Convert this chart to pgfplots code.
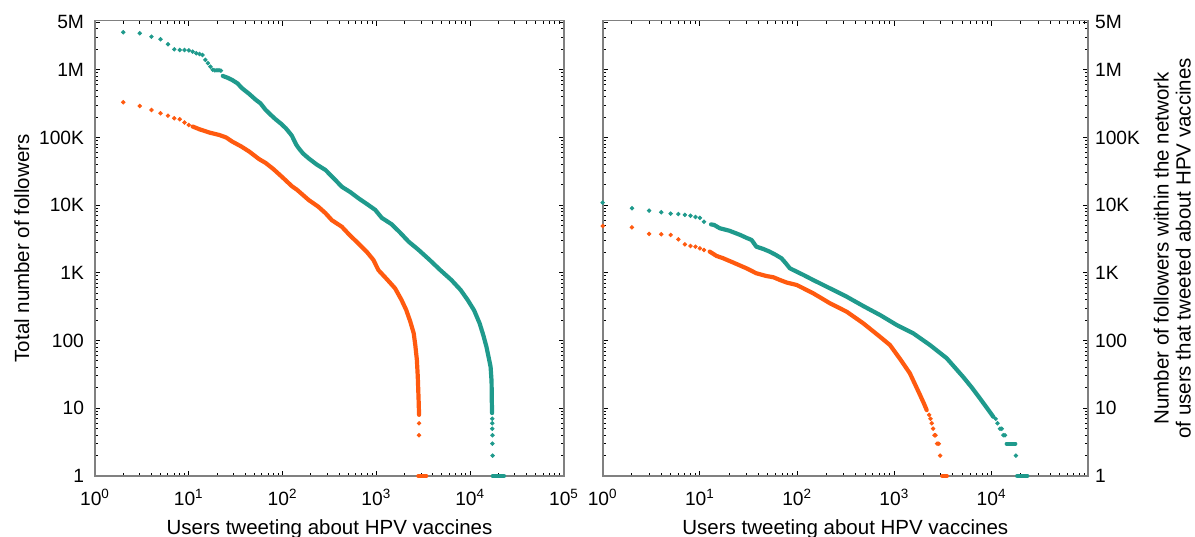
\documentclass[border=0pt]{standalone}
\usepackage{fontspec}
\setmainfont{Liberation Sans}
\usepackage{pgfplots}
\pgfplotsset{compat=1.18}
\definecolor{cTeal}{HTML}{1F9A8C}
\definecolor{cOrange}{HTML}{FF5A0F}

\pgfplotsset{
  hpvaxis/.style={
    scale only axis, ymin=1, ymax=5.3e6, clip=false,
    height=227.65pt,
    axis line style={draw=gray, line width=0.8pt},
    tick style={black, line width=0.5pt},
    major tick length=2.5pt, minor tick length=1.5pt,
    ytick={1,10,100,1000,1e4,1e5,1e6,5e6},
    yticklabels={1,10,100,1K,10K,100K,1M,5M},
    minor ytick={2,3,4,5,6,7,8,9,20,30,40,50,60,70,80,90,200,300,400,500,600,700,800,900,
      2e3,3e3,4e3,5e3,6e3,7e3,8e3,9e3,2e4,3e4,4e4,5e4,6e4,7e4,8e4,9e4,
      2e5,3e5,4e5,5e5,6e5,7e5,8e5,9e5,2e6,3e6,4e6},
    minor xtick={2,3,4,5,6,7,8,9,20,30,40,50,60,70,80,90,200,300,400,500,600,700,800,900,
      2e3,3e3,4e3,5e3,6e3,7e3,8e3,9e3,2e4,3e4,4e4,5e4,6e4,7e4,8e4,9e4},
    tick label style={font=\fontsize{9.6}{11}\selectfont},
    xticklabel shift=3pt,
    xlabel style={font=\fontsize{10.25}{12.5}\selectfont},
    ylabel style={font=\fontsize{10.25}{12.5}\selectfont},
    xlabel={Users tweeting about HPV vaccines},
  },
  hpvdots/.style={only marks, mark=*, mark size=0.9pt, color=#1},
  hpvline/.style={no markers, line width=2.1pt, line cap=round, line join=round, color=#1},
}

\begin{document}
\begin{tikzpicture}
\useasboundingbox (0,0) rectangle (597.5pt,268pt);

% left panel: total followers
\begin{axis}[xmode=log, ymode=log, hpvaxis, at={(47.5pt,30pt)}, anchor=south west,
  width=234.5pt, xmin=1, xmax=1e5,
  xtick={1,10,100,1000,1e4,1e5},
  xticklabels={10\textsuperscript{0},10\textsuperscript{1},10\textsuperscript{2},10\textsuperscript{3},10\textsuperscript{4},10\textsuperscript{5}},
  yticklabel shift=2pt,
  ylabel shift=-2pt,
  ylabel={Total number of followers},
]
\addplot[hpvdots=cTeal] coordinates {(2,3.58e6) (3,3.45e6) (4,3.08e6) (5,2.82e6) (6,2.38e6) (7,2.0e6) (8,1.96e6) (9,1.95e6) (10,1.93e6) (11,1.85e6) (12,1.75e6) (13,1.71e6) (14,1.65e6) (15,1.4e6) (16,1.25e6) (17,1.11e6) (18,1.0e6) (19,0.98e6) (20,0.98e6) (21,0.98e6) (22,0.97e6)
  (17200,7) (17200,6) (17200,5) (17250,4) (17250,3) (17300,2)};
\addplot[hpvline=cTeal] coordinates {(23,8.1e5) (26,7.6e5) (29,7.06e5) (33,6.3e5) (37,5.33e5) (44,4.4e5) (52,3.58e5) (58,3.2e5) (66,2.55e5) (75,2.15e5) (84,1.86e5) (96,1.6e5) (108,1.37e5) (120,1.15e5) (126,1.05e5) (133,9.0e4) (140,7.8e4) (149,6.9e4) (165,5.8e4) (190,4.9e4) (230,4.0e4) (287,3.3e4) (350,2.5e4) (428,1.87e4) (530,1.55e4) (646,1.26e4) (800,1.03e4) (973,8.5e3) (1140,6.5e3) (1460,5.2e3) (1800,3.9e3) (2200,2.9e3) (2800,2.2e3) (3700,1.55e3) (4800,1.1e3) (6300,785) (7900,560) (9400,398) (11000,280) (12600,180) (13800,120) (14900,81) (15800,55) (16500,41) (16900,25) (17000,13) (17100,8.5)};
\addplot[hpvline=cTeal] coordinates {(17400,1) (22900,1)};
\addplot[hpvdots=cOrange] coordinates {(2,3.31e5) (3,2.92e5) (4,2.55e5) (5,2.28e5) (6,2.1e5) (7,1.92e5) (8,1.86e5) (9,1.66e5) (10,1.53e5) (2850,6) (2850,4)};
\addplot[hpvline=cOrange] coordinates {(11,1.45e5) (13,1.32e5) (16.6,1.18e5) (21,1.09e5) (25,1.0e5) (29,8.7e4) (36,7.4e4) (44,6.2e4) (56,4.8e4) (66,4.2e4) (80,3.4e4) (99,2.6e4) (126,1.9e4) (143,1.68e4) (190,1.19e4) (240,9.5e3) (287,7.6e3) (335,6.0e3) (428,4.8e3) (520,3.6e3) (646,2.7e3) (800,2.0e3) (930,1.55e3) (1050,1.1e3) (1300,800) (1580,592) (1850,400) (2080,283) (2300,190) (2500,128) (2600,85) (2700,52) (2760,30) (2820,13) (2850,8)};
\addplot[hpvline=cOrange] coordinates {(2800,1) (3400,1)};
\end{axis}

% right panel: followers within the network
\begin{axis}[xmode=log, ymode=log, hpvaxis, at={(301.35pt,30pt)}, anchor=south west,
  width=242.65pt, xmin=1, xmax=9.8e4,
  xtick={1,10,100,1000,1e4},
  xticklabels={10\textsuperscript{0},10\textsuperscript{1},10\textsuperscript{2},10\textsuperscript{3},10\textsuperscript{4}},
  yticklabel pos=right,
  ylabel style={align=center, font=\fontsize{10.25}{11}\selectfont},
  ylabel={Number of followers within the network\\of users that tweeted about HPV vaccines},
]
\addplot[hpvdots=cTeal] coordinates {(1,1.09e4) (2,9.0e3) (3,8.3e3) (4,7.86e3) (5,7.5e3) (6,7.4e3) (7,7.2e3) (8,7.0e3) (9,6.7e3) (10,6.5e3) (11,5.7e3)
  (11000,7) (11500,6) (12200,5) (12700,5) (13200,4) (13700,4) (17800,2)};
\addplot[hpvline=cTeal] coordinates {(13,5.2e3) (14,5.1e3) (16,4.56e3) (20,4.2e3) (26,3.63e3) (30,3.3e3) (34,3.06e3) (38,2.44e3) (45,2.25e3) (52,2.06e3) (60,1.85e3) (69,1.64e3) (76,1.4e3) (84,1.17e3) (99,1.04e3) (116,931) (146,785) (217,592) (323,445) (478,324) (710,239) (1055,170) (1563,128) (2320,86) (3445,55) (5100,29) (6300,20) (7580,14) (9000,10) (10400,7.5)};
\addplot[hpvline=cTeal] coordinates {(14300,3) (17500,3)};
\addplot[hpvline=cTeal] coordinates {(18300,1) (23300,1)};
\addplot[hpvdots=cOrange] coordinates {(1,4.93e3) (2,4.7e3) (3,3.76e3) (4,3.72e3) (5,3.63e3) (6,3.13e3) (7,2.64e3) (8,2.5e3) (9,2.44e3) (10,2.3e3) (11,2.18e3)
  (2280,8) (2350,7) (2420,6) (2500,5) (2580,4) (2650,4) (2750,3) (2860,3) (2960,2)};
\addplot[hpvline=cOrange] coordinates {(12.6,2.06e3) (14.8,1.78e3) (17.4,1.64e3) (22,1.42e3) (30,1.17e3) (38,987) (48,900) (57,861) (66.5,785) (78,720) (99,662) (146,500) (217,356) (323,267) (478,180) (710,114) (900,86) (1160,52) (1440,33) (1800,16.7) (2000,12) (2150,9.4)};
\addplot[hpvline=cOrange] coordinates {(3100,1) (3470,1)};
\end{axis}
\end{tikzpicture}
\end{document}
